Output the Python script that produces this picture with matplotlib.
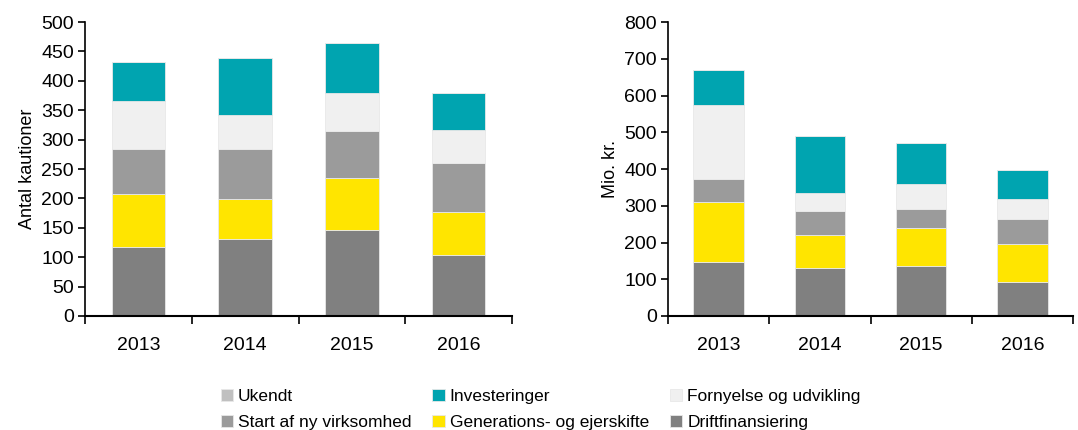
import matplotlib.pyplot as plt
import numpy as np

plt.rcParams['font.family'] = ['Liberation Sans', 'DejaVu Sans']

# ---- data ----
years = ['2013', '2014', '2015', '2016']
series = ['Driftfinansiering', 'Generations- og ejerskifte', 'Start af ny virksomhed',
          'Fornyelse og udvikling', 'Investeringer', 'Ukendt']
colors = ['#808080', '#FFE500', '#9B9B9B', '#F0F0F0', '#00A4B0', '#C0C0C0']

# Antal kautioner
antal_drift = [117, 131, 146, 104]
antal_gen = [90, 68, 88, 73]
antal_start = [77, 85, 81, 84]
antal_forn = [82, 57, 64, 56]
antal_inv = [66, 98, 85, 63]
antal_ukendt = [0, 0, 0, 0]

# Mio. kr.
mio_drift = [147, 131, 136, 93]
mio_gen = [164, 89, 104, 104]
mio_start = [63, 66, 52, 67]
mio_forn = [200, 49, 66, 55]
mio_inv = [96, 155, 112, 77]
mio_ukendt = [0, 0, 0, 0]

fig = plt.figure(figsize=(10.78, 4.30), dpi=100)
ax1 = fig.add_axes([85/1078, 1 - 316/430, 427/1078, 294/430])
ax2 = fig.add_axes([668/1078, 1 - 316/430, 405/1078, 294/430])

x = np.arange(len(years))


def stacked(ax, data, ymax, step, ylabel):
    bottom = np.zeros(len(years))
    for vals, c, name in zip(data, colors, series):
        ax.bar(x, vals, bottom=bottom, width=0.5, color=c, edgecolor='#E8E8E8',
               linewidth=0.6, label=name)
        bottom += np.array(vals)
    ax.set_xlim(-0.5, len(years) - 0.5)
    ax.set_ylim(0, ymax)
    ax.set_yticks(np.arange(0, ymax + 1, step))
    ax.set_xticks(x)
    ax.set_xticklabels(years)
    ax.set_xticks(np.arange(-0.5, len(years), 1), minor=True)
    ax.tick_params(axis='x', which='major', length=0, pad=15, labelsize=14)
    ax.tick_params(axis='x', which='minor', length=6, width=1.2, direction='out')
    ax.tick_params(axis='y', length=5, width=1.2, direction='out', labelsize=14, pad=3)
    ax.spines['top'].set_visible(False)
    ax.spines['right'].set_visible(False)
    ax.spines['left'].set_linewidth(1.2)
    ax.spines['bottom'].set_linewidth(1.5)
    ax.set_ylabel(ylabel, fontsize=13, labelpad=4)


stacked(ax1, [antal_drift, antal_gen, antal_start, antal_forn, antal_inv, antal_ukendt],
        500, 50, 'Antal kautioner')
stacked(ax2, [mio_drift, mio_gen, mio_start, mio_forn, mio_inv, mio_ukendt],
        800, 100, 'Mio. kr.')

# legend: row 1 Ukendt / Investeringer / Fornyelse, row 2 Start / Generations / Drift
h, l = ax1.get_legend_handles_labels()
order = [5, 2, 4, 1, 3, 0]
fig.legend([h[i] for i in order], [l[i] for i in order], ncol=3,
           loc='upper left', bbox_to_anchor=(212/1078, 1 - 380/430), frameon=False,
           fontsize=12.5, handlelength=0.7, handleheight=0.7, handletextpad=0.3,
           columnspacing=1.2, labelspacing=0.65, borderpad=0)

fig.savefig('out.png', dpi=100)
